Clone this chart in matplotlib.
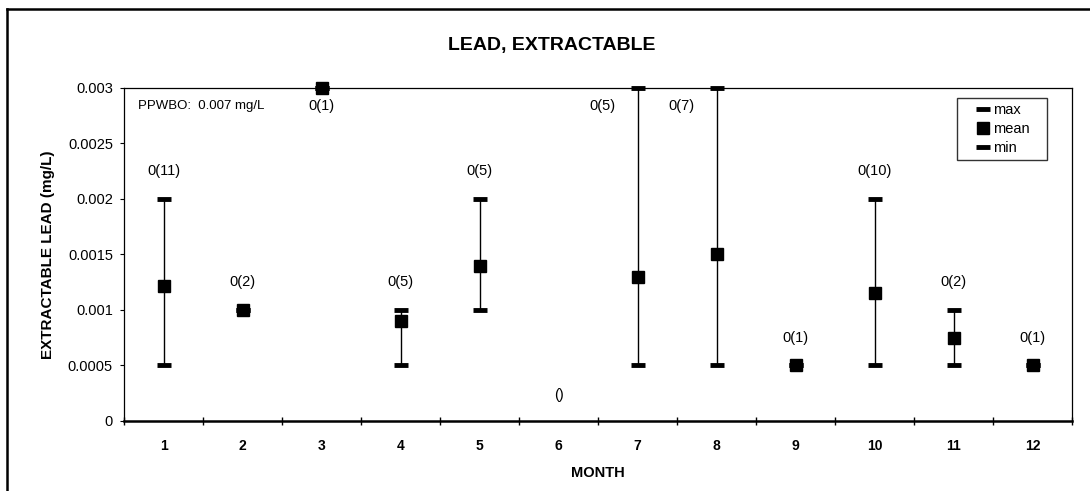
import matplotlib.pyplot as plt
import numpy as np
from matplotlib.lines import Line2D

plt.rcParams['font.family'] = ['Liberation Sans', 'DejaVu Sans']

months = list(range(1, 13))
lead_max = [0.002, 0.001, 0.003, 0.001, 0.002, np.nan, 0.003, 0.003, 0.0005, 0.002, 0.001, 0.0005]
lead_mean = [0.00122, 0.001, 0.003, 0.0009, 0.0014, np.nan, 0.0013, 0.0015, 0.0005, 0.00115, 0.00075, 0.0005]
lead_min = [0.0005, 0.001, 0.003, 0.0005, 0.001, np.nan, 0.0005, 0.0005, 0.0005, 0.0005, 0.0005, 0.0005]
point_labels = ['0(11)', '0(2)', '0(1)', '0(5)', '0(5)', '()', '0(5)', '0(7)', '0(1)', '0(10)', '0(2)', '0(1)']

fig = plt.figure(figsize=(10.9, 4.91), dpi=100)
ax = fig.add_axes([0.1138, 0.1426, 0.8697, 0.6782])

x = np.array(months)
mx = np.array(lead_max)
mn = np.array(lead_min)
me = np.array(lead_mean)

# range lines between min and max
ax.vlines(x, mn, mx, colors='black', linewidth=1.0, zorder=2, clip_on=False)
ax.plot(x, mx, linestyle='none', marker='_', markersize=10, mew=3.5, color='black',
        label='max', zorder=3, clip_on=False)
ax.plot(x, me, linestyle='none', marker='s', markersize=9, color='black',
        label='mean', zorder=4, clip_on=False)
ax.plot(x, mn, linestyle='none', marker='_', markersize=10, mew=3.5, color='black',
        label='min', zorder=3, clip_on=False)

# exceedance counts above each month
lab_fs = 10.5
for i, m in enumerate(months):
    top = mx[i]
    if np.isnan(top):
        ax.annotate(point_labels[i], (m, 0), xytext=(0, 19), textcoords='offset points',
                    ha='center', va='center', fontsize=lab_fs)
    elif top >= 0.003 and me[i] >= 0.003:
        ax.annotate(point_labels[i], (m, top), xytext=(0, -13), textcoords='offset points',
                    ha='center', va='center', fontsize=lab_fs)
    elif top >= 0.003:
        ax.annotate(point_labels[i], (m, top), xytext=(-25, -13), textcoords='offset points',
                    ha='center', va='center', fontsize=lab_fs)
    else:
        ax.annotate(point_labels[i], (m, top), xytext=(0, 20), textcoords='offset points',
                    ha='center', va='center', fontsize=lab_fs)

ax.text(0.015, 0.945, 'PPWBO:  0.007 mg/L', transform=ax.transAxes, fontsize=9.5,
        ha='left', va='center')

ax.set_xlim(0.5, 12.5)
ax.set_ylim(0, 0.003)
ax.set_yticks([0, 0.0005, 0.001, 0.0015, 0.002, 0.0025, 0.003])
ax.set_yticklabels(['0', '0.0005', '0.001', '0.0015', '0.002', '0.0025', '0.003'], fontsize=10.5)
ax.set_xticks(months)
ax.set_xticklabels([str(m) for m in months], fontsize=10, fontweight='bold')
ax.set_xticks(np.arange(0.5, 13, 1), minor=True)
ax.tick_params(axis='x', which='major', length=0, pad=13)
ax.tick_params(axis='x', which='minor', length=6, direction='inout', width=1)
ax.tick_params(axis='y', length=3, width=0.8, pad=5)

for side in ['left', 'right', 'top']:
    ax.spines[side].set_linewidth(0.9)
ax.spines['bottom'].set_linewidth(1.8)

ax.set_xlabel('MONTH', fontsize=10.5, fontweight='bold', labelpad=9)
ax.set_ylabel('EXTRACTABLE LEAD (mg/L)', fontsize=11, fontweight='bold', labelpad=9)
fig.text(0.506, 0.908, 'LEAD, EXTRACTABLE', ha='center', va='center',
         fontsize=14, fontweight='bold')

# wide legend box, entries pushed to the right
ax.legend(loc='upper left', bbox_to_anchor=(0.8787, 0.4, 0.0949, 0.57), mode='expand',
          fontsize=10.5, frameon=True, fancybox=False, edgecolor='black',
          handlelength=2.9, handletextpad=-0.8, borderpad=0.35, labelspacing=0.35,
          borderaxespad=0)

# outer frame lines
fig.add_artist(Line2D([0.006, 1.0], [0.981, 0.981], color='black', linewidth=1.8))
fig.add_artist(Line2D([0.006, 0.006], [0.0, 0.981], color='black', linewidth=1.8))

fig.savefig('out.png', dpi=100)
